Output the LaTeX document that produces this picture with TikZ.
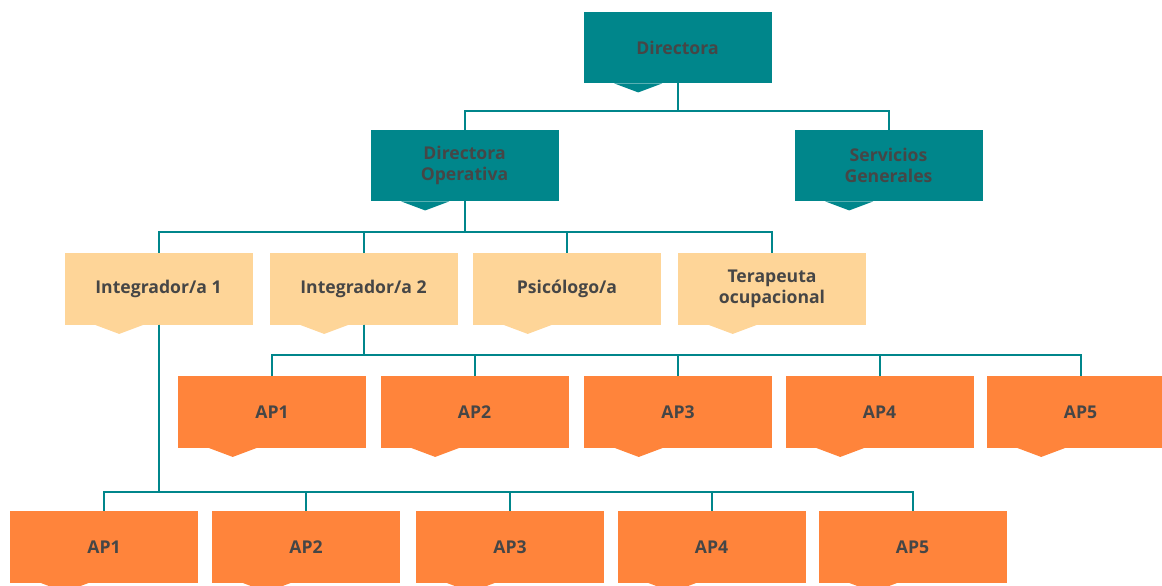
\documentclass[tikz,border=0pt]{standalone}
\usepackage{fontspec}
\setmainfont{Open Sans}
\definecolor{teal1}{RGB}{0,134,139}
\definecolor{peach}{RGB}{254,213,152}
\definecolor{orng}{RGB}{255,132,59}
\definecolor{txt}{RGB}{70,70,70}
\tikzset{
  orgbox/.style={rectangle, inner sep=0pt, minimum width=141pt, minimum height=53.5pt,
    align=center, text=txt, font=\fontsize{13.2}{15.75}\selectfont\bfseries},
  link/.style={draw=teal1, line width=1.5pt}
}
\newcommand{\obox}[5]{%
  \node[orgbox, fill=#4] (#1) at (#2,#3) {#5};
  \fill[#4] (#1.south west) ++(31,0) -- ++(24,9) -- ++(24,-9) -- cycle;
}
\begin{document}
\begin{tikzpicture}[x=0.75pt,y=-0.75pt]
\useasboundingbox (0,0) rectangle (1162,585);
\clip (0,0) rectangle (1162,585);
% boxes
\obox{dir}{677.5}{47.5}{teal1}{Directora}
\obox{do}{464.5}{165.5}{teal1}{Directora\\Operativa}
\obox{sg}{888.5}{165.5}{teal1}{Servicios\\Generales}
\obox{ia}{158.5}{289}{peach}{Integrador/a 1}
\obox{ib}{363.5}{289}{peach}{Integrador/a 2}
\obox{ps}{567}{289}{peach}{Psicólogo/a}
\obox{tp}{772}{289}{peach}{Terapeuta\\ocupacional}
\obox{aa}{272}{412}{orng}{AP1}
\obox{ab}{474.5}{412}{orng}{AP2}
\obox{ac}{678}{412}{orng}{AP3}
\obox{ad}{879.5}{412}{orng}{AP4}
\obox{ae}{1080.5}{412}{orng}{AP5}
\obox{ba}{104}{547}{orng}{AP1}
\obox{bb}{306}{547}{orng}{AP2}
\obox{bc}{510}{547}{orng}{AP3}
\obox{bd}{711.5}{547}{orng}{AP4}
\obox{be}{912.5}{547}{orng}{AP5}
% connectors
\draw[link] (dir.south) -- ++(0,28) -| (do.north);
\draw[link] (dir.south) -- ++(0,28) -| (sg.north);
\foreach \c in {ia,ib,ps,tp} \draw[link] (do.south) -- ++(0,31) -| (\c.north);
\foreach \c in {aa,ab,ac,ad,ae} \draw[link] (ib.south) -- ++(0,30) -| (\c.north);
\foreach \c in {ba,bb,bc,bd,be} \draw[link] (ia.south) -- ++(0,167) -| (\c.north);
\end{tikzpicture}
\end{document}
